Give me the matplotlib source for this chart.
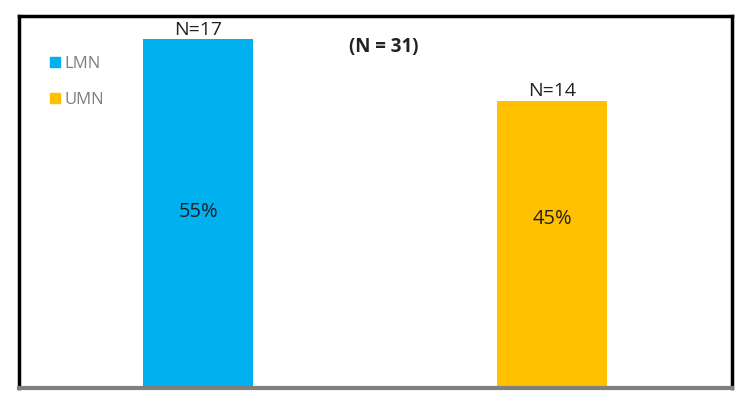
import matplotlib
matplotlib.use("Agg")
import matplotlib.pyplot as plt
from matplotlib.lines import Line2D

categories = ["LMN", "UMN"]
counts = [17, 14]
percent_labels = ["55%", "45%"]
count_labels = ["N=17", "N=14"]
total_label = "(N = 31)"
colors = ["#00B0EF", "#FFC000"]

plt.rcParams['font.family'] = ['Open Sans', 'DejaVu Sans']

fig = plt.figure(figsize=(7.5, 4.04), dpi=100)
ax = fig.add_axes([0.0253, 0.0396, 0.9507, 0.9208])

x = list(range(len(categories)))
bars = ax.bar(x, counts, width=0.31, color=colors, zorder=2)
ax.set_xlim(-0.506, 1.508)
ax.set_ylim(0, 18.12)

pct_y = [0.473, 0.455]  # axes-fraction heights of the percent labels
for xi, c, cl, pl, py in zip(x, counts, count_labels, percent_labels, pct_y):
    ax.text(xi, c + 0.02, cl, ha="center", va="bottom", fontsize=14, color="#222222")
    ax.text(xi, py, pl, ha="center", va="center", fontsize=14.5, color="#222222",
            transform=ax.get_xaxis_transform())

ax.text(0.512, 0.918, total_label, transform=ax.transAxes, ha="center", va="center",
        fontsize=13.5, fontweight="bold", color="#222222")

handles = [Line2D([0], [0], marker="s", linestyle="none", markersize=6.5,
                  markerfacecolor=col, markeredgecolor=col) for col in colors]
leg = ax.legend(handles, categories, loc="upper left", bbox_to_anchor=(0.018, 0.933),
                frameon=False, fontsize=12, labelspacing=1.2, handletextpad=0.05,
                handlelength=1.0)
for t in leg.get_texts():
    t.set_color("#7f7f7f")

ax.set_xticks([])
ax.set_yticks([])
for s in ["left", "right", "top"]:
    ax.spines[s].set_linewidth(2.5)
    ax.spines[s].set_color("black")
ax.spines["bottom"].set_linewidth(3)
ax.spines["bottom"].set_color("#7f7f7f")

fig.savefig("out.png", dpi=100, facecolor="white")
